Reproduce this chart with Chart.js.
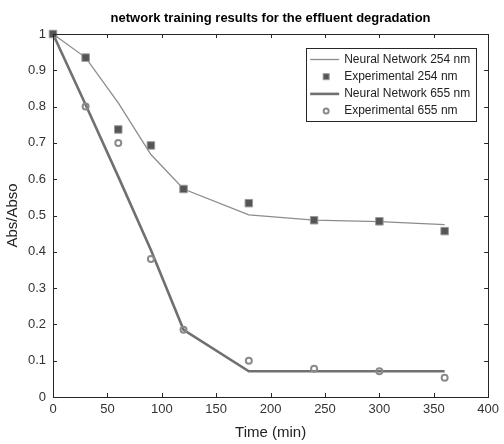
<!DOCTYPE html>
<html>
<head>
<meta charset="utf-8">
<script src="https://cdn.jsdelivr.net/npm/chart.js@4"></script>
<style>
  html, body { margin: 0; padding: 0; background: #fff; }
  #wrap { width: 504px; height: 444px; }
</style>
</head>
<body>
<div id="wrap"><canvas id="chart" width="504" height="444"></canvas></div>
<script>
const times = [0, 30, 60, 90, 120, 180, 240, 300, 360]
const nn254 = [1.0, 0.935, 0.81, 0.668, 0.573, 0.502, 0.487, 0.483, 0.475]
const exp254 = [1.0, 0.935, 0.737, 0.693, 0.573, 0.534, 0.487, 0.484, 0.457]
const nn655 = [1.0, 0.805, 0.607, 0.405, 0.185, 0.071, 0.071, 0.071, 0.071]
const exp655 = [1.0, 0.80, 0.70, 0.38, 0.185, 0.10, 0.078, 0.071, 0.053]
const seriesNames = ['Neural Network 254 nm', 'Experimental 254 nm', 'Neural Network 655 nm', 'Experimental 655 nm']
const chartTitle = 'network training results for the effluent degradation'

const FONT = '"Liberation Sans", Arial, sans-serif'

function toPoints(vals) {
    return times.map((t, i) => ({x: t, y: vals[i]}))
}

// frame + inward ticks on all four sides, like the original
const frameTicks = {
    id: 'frameTicks',
    afterDraw(chart) {
        const {ctx, chartArea: a, scales} = chart
        ctx.save()
        ctx.strokeStyle = '#262626'
        ctx.lineWidth = 1
        ctx.strokeRect(Math.round(a.left) + 0.5, Math.round(a.top) + 0.5,
            Math.round(a.right - a.left), Math.round(a.bottom - a.top))
        const len = 4
        ctx.beginPath()
        scales.x.ticks.forEach(t => {
            const px = Math.round(scales.x.getPixelForValue(t.value)) + 0.5
            ctx.moveTo(px, a.bottom); ctx.lineTo(px, a.bottom - len)
            ctx.moveTo(px, a.top); ctx.lineTo(px, a.top + len)
        })
        scales.y.ticks.forEach(t => {
            const py = Math.round(scales.y.getPixelForValue(t.value)) + 0.5
            ctx.moveTo(a.left, py); ctx.lineTo(a.left + len, py)
            ctx.moveTo(a.right, py); ctx.lineTo(a.right - len, py)
        })
        ctx.stroke()

        // title centred over the plot
        ctx.fillStyle = '#000'
        ctx.font = 'bold 13px ' + FONT
        ctx.textAlign = 'center'
        ctx.textBaseline = 'middle'
        ctx.fillText(chartTitle, (a.left + a.right) / 2, 18)
        ctx.restore()
    }
}

// legend box inside the plot, top right
const insideLegend = {
    id: 'insideLegend',
    afterDatasetsDraw(chart) {
        const {ctx, chartArea: a} = chart
        const boxW = 170, rowH = 17.2
        const x0 = a.right - 12 - boxW, y0 = 48
        const boxH = 73
        ctx.save()
        ctx.fillStyle = '#fff'
        ctx.fillRect(x0, y0, boxW, boxH)
        ctx.strokeStyle = '#262626'
        ctx.lineWidth = 1
        ctx.strokeRect(Math.round(x0) + 0.5, Math.round(y0) + 0.5, boxW, boxH)
        ctx.font = '12px ' + FONT
        ctx.textBaseline = 'middle'
        chart.data.datasets.forEach((ds, i) => {
            const cy = y0 + 11.5 + i * rowH
            const sx = x0 + 4, ex = x0 + 33
            if (ds.showLine) {
                ctx.strokeStyle = ds.borderColor
                ctx.lineWidth = ds.borderWidth
                ctx.beginPath(); ctx.moveTo(sx, cy); ctx.lineTo(ex, cy); ctx.stroke()
            } else if (ds.pointStyle === 'rect') {
                ctx.fillStyle = ds.pointBackgroundColor
                ctx.strokeStyle = ds.pointBorderColor
                ctx.lineWidth = 1
                ctx.fillRect(x0 + 17, cy - 3, 6, 6)
                ctx.strokeRect(x0 + 17, cy - 3, 6, 6)
            } else {
                ctx.strokeStyle = ds.pointBorderColor
                ctx.lineWidth = 2
                ctx.beginPath(); ctx.arc(x0 + 20, cy, 2.5, 0, Math.PI * 2); ctx.stroke()
            }
            ctx.fillStyle = '#222'
            ctx.textAlign = 'left'
            ctx.fillText(ds.label, x0 + 38, cy)
        })
        ctx.restore()
    }
}

new Chart(document.getElementById('chart').getContext('2d'), {
    type: 'scatter',
    data: {
        datasets: [
            {
                label: seriesNames[0],
                data: toPoints(nn254),
                showLine: true,
                borderColor: '#8c8c8c',
                borderWidth: 1.3,
                pointRadius: 0,
                clip: false,
                order: 4
            },
            {
                label: seriesNames[1],
                data: toPoints(exp254),
                showLine: false,
                pointStyle: 'rect',
                pointRadius: 5.3,
                pointBackgroundColor: '#555555',
                pointBorderColor: '#9a9a9a',
                pointBorderWidth: 1,
                clip: false,
                order: 1
            },
            {
                label: seriesNames[2],
                data: toPoints(nn655),
                showLine: true,
                borderColor: '#707070',
                borderWidth: 2.6,
                pointRadius: 0,
                clip: false,
                order: 3
            },
            {
                label: seriesNames[3],
                data: toPoints(exp655),
                showLine: false,
                pointStyle: 'circle',
                pointRadius: 3,
                pointBackgroundColor: 'rgba(255,255,255,0)',
                pointBorderColor: '#8a8a8a',
                pointBorderWidth: 2,
                clip: false,
                order: 2
            }
        ]
    },
    options: {
        responsive: false,
        animation: false,
        layout: {padding: {top: 34, right: 13, left: 0, bottom: 0}},
        plugins: {
            legend: {display: false},
            tooltip: {enabled: false},
            title: {display: false}
        },
        scales: {
            x: {
                type: 'linear',
                min: 0,
                max: 400,
                ticks: {stepSize: 50, color: '#333', font: {family: FONT, size: 13}, padding: 5, maxRotation: 0},
                grid: {display: false, drawTicks: false},
                border: {display: false},
                title: {display: true, text: 'Time (min)', color: '#222', font: {family: FONT, size: 15}, padding: {top: 0, bottom: 2}},
                afterFit(scale) { scale.height = 47 }
            },
            y: {
                type: 'linear',
                min: 0,
                max: 1,
                ticks: {
                    stepSize: 0.1, color: '#333', font: {family: FONT, size: 13}, padding: 7,
                    callback: v => String(Math.round(v * 10) / 10)
                },
                grid: {display: false, drawTicks: false},
                border: {display: false},
                title: {display: true, text: 'Abs/Abso', color: '#222', font: {family: FONT, size: 15}, padding: {top: 4, bottom: 0}},
                afterFit(scale) { scale.width = 53 }
            }
        }
    },
    plugins: [frameTicks, insideLegend]
})
</script>
</body>
</html>
